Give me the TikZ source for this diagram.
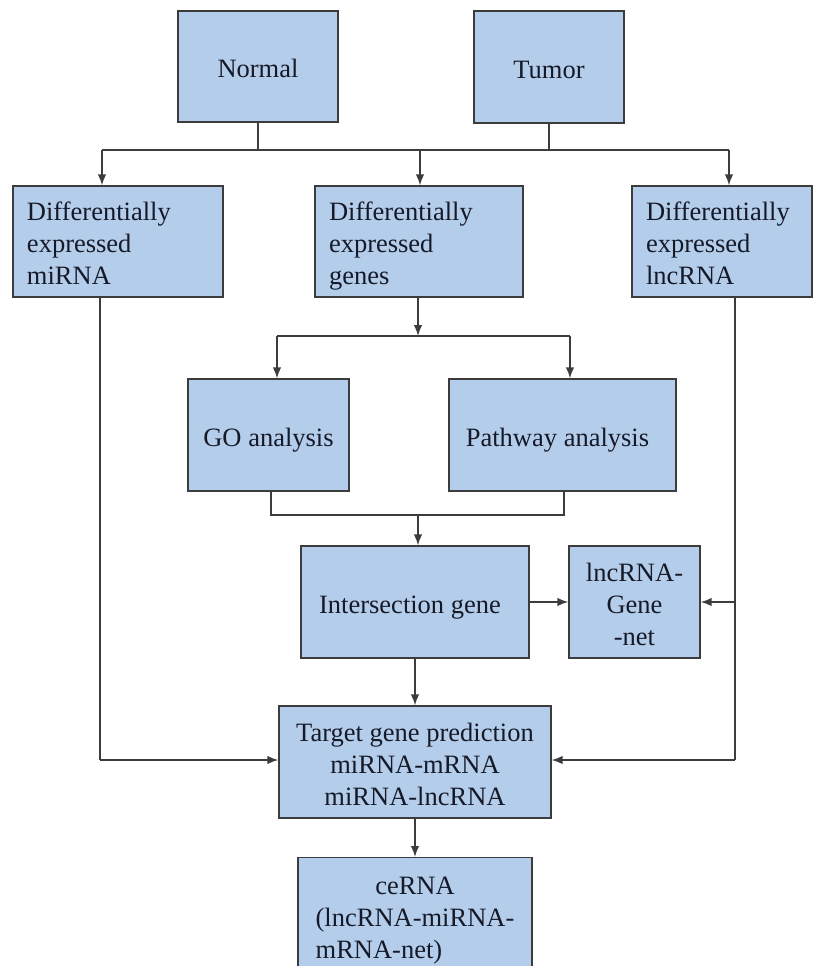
\documentclass[tikz,border=0pt]{standalone}
\usepackage{fontspec}
\setmainfont{Liberation Serif}
\usetikzlibrary{arrows.meta,calc}
\definecolor{boxfill}{RGB}{180,205,234}
\definecolor{edgecol}{RGB}{60,60,60}
\definecolor{txtcol}{RGB}{22,26,40}
\newcommand\mytop{\rule{0pt}{32.4pt}}
\newcommand\mybot{\rule[-9.6pt]{0pt}{9.6pt}}
\begin{document}
\begin{tikzpicture}[x=1pt,y=-1pt,
  box/.style={draw=edgecol, line width=1.3pt, fill=boxfill, inner sep=0pt,
    font=\fontsize{26.5}{32}\selectfont, text=txtcol, align=center},
  lbox/.style={box, align=left, text width=#1},
  conn/.style={draw=edgecol, line width=1.6pt},
  arr/.style={conn, -{Latex[length=11pt,width=8.5pt]}}]
\useasboundingbox (0,0) rectangle (817,966);

% boxes
\node[box, minimum width=160pt, minimum height=111pt] (normal) at (258,66.5) {\mytop Normal\mybot};
\node[box, minimum width=150pt, minimum height=112pt] (tumor) at (549,67) {\mytop Tumor\mybot};
\node[lbox=182pt, minimum width=210pt, minimum height=111pt] (demi) at (118,241.5) {\mytop Differentially\\expressed\\miRNA\mybot};
\node[lbox=180pt, minimum width=208pt, minimum height=111pt] (degene) at (419,241.5) {\mytop Differentially\\expressed\\genes\mybot};
\node[lbox=152pt, minimum width=180pt, minimum height=111pt] (delnc) at (722,241.5) {\mytop Differentially\\expressed\\lncRNA\mybot};
\node[box, minimum width=161pt, minimum height=112pt] (go) at (268.5,435) {\mytop GO analysis\mybot};
\node[box, minimum width=227pt, minimum height=112pt] (path) at (562.5,435) {\mytop Pathway analysis\hspace{10pt}\mybot};
\node[box, minimum width=228pt, minimum height=112pt] (inter) at (415,602) {\mytop Intersection gene\hspace{10pt}\mybot};
\node[box, minimum width=131pt, minimum height=112pt] (lgnet) at (634.5,602) {\mytop lncRNA-\\Gene\\-net\mybot};
\node[box, minimum width=272pt, minimum height=112pt] (target) at (415,762) {\mytop Target gene prediction\\miRNA-mRNA\\miRNA-lncRNA\mybot};
\node[box, minimum width=234pt, minimum height=125pt, inner ysep=12.5pt, anchor=north] (cerna) at (415,857)
  {\begin{tabular}{@{}l@{}}\multicolumn{1}{@{}c@{}}{ceRNA}\\(lncRNA-miRNA-\\mRNA-net)\end{tabular}};

% top split
\coordinate (hl) at (102,150);
\coordinate (hm) at (420,150);
\coordinate (hr) at (729,150);
\draw[conn] (hl) -- (hr);
\draw[conn] (normal.south) -- (normal.south |- hm);
\draw[conn] (tumor.south) -- (tumor.south |- hm);
\draw[arr] (hl) -- (hl |- demi.north);
\draw[arr] (hm) -- (hm |- degene.north);
\draw[arr] (hr) -- (hr |- delnc.north);

% genes split
\coordinate (sg) at (418,336);
\coordinate (sl) at (277,336);
\coordinate (sr) at (570,336);
\draw[conn] (sl) -- (sr);
\draw[arr] (degene.south -| sg) -- (sg);
\draw[arr] (sl) -- (sl |- go.north);
\draw[arr] (sr) -- (sr |- path.north);

% merge
\coordinate (ml) at (271,515);
\coordinate (mr) at (564,515);
\coordinate (mm) at (418,515);
\draw[conn] (go.south -| ml) -- (ml) -- (mr) -- (path.south -| mr);
\draw[arr] (mm) -- (mm |- inter.north);

\draw[arr] (inter.east) -- (lgnet.west);

% right branch
\coordinate (rv) at (735,760);
\coordinate (rb) at (735,602);
\draw[conn] (delnc.south -| rv) -- (rv);
\draw[arr] (rb) -- (lgnet.east |- rb);
\draw[arr] (rv) -- (target.east |- rv);

% left branch
\coordinate (lv) at (100,760);
\draw[conn] (demi.south -| lv) -- (lv);
\draw[arr] (lv) -- (target.west |- lv);

\draw[arr] (inter.south) -- (inter.south |- target.north);
\draw[arr] (target.south) -- (target.south |- cerna.north);
\end{tikzpicture}
\end{document}
